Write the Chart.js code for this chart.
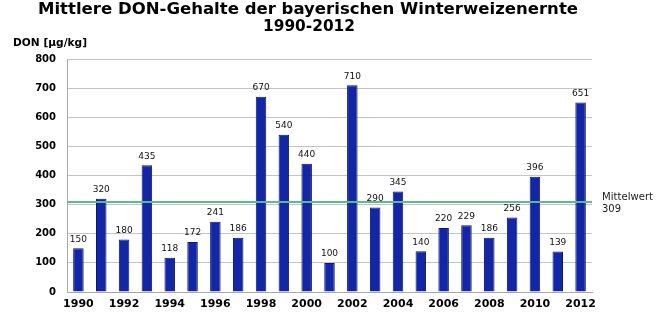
<!DOCTYPE html>
<html>
<head>
<meta charset="utf-8">
<script src="https://cdn.jsdelivr.net/npm/chart.js@4"></script>
<style>
  html, body { margin: 0; padding: 0; background: #fff; }
  #wrap { width: 658px; height: 323px; }
</style>
</head>
<body>
<div id="wrap"><canvas id="chart" width="658" height="323"></canvas></div>
<script>
const years = ['1990', '1991', '1992', '1993', '1994', '1995', '1996', '1997', '1998', '1999', '2000', '2001',
  '2002', '2003', '2004', '2005', '2006', '2007', '2008', '2009', '2010', '2011', '2012'];
const donValues = [150, 320, 180, 435, 118, 172, 241, 186, 670, 540, 440, 100,
  710, 290, 345, 140, 220, 229, 186, 256, 396, 139, 651];
const meanValue = 309;
const titleLines = ['Mittlere DON-Gehalte der bayerischen Winterweizenernte', '1990-2012'];
const yAxisLabel = 'DON [µg/kg]';
const meanLabel = ['Mittelwert', String(meanValue)];

const FONT = '"DejaVu Sans", Verdana, sans-serif';

// draw text squeezed/stretched horizontally so it spans the given width
function fitText(ctx, text, x, y, width) {
  const w = ctx.measureText(text).width;
  ctx.save();
  ctx.translate(x, y);
  ctx.scale(width / w, 1);
  ctx.fillText(text, 0, 0);
  ctx.restore();
}

// titles, axis caption and the mean line with its label
const overlay = {
  id: 'overlay',
  afterDraw(chart) {
    const ctx = chart.ctx;
    const area = chart.chartArea;
    ctx.save();
    ctx.fillStyle = '#000';
    ctx.textBaseline = 'middle';
    ctx.textAlign = 'left';
    ctx.font = 'bold 16px ' + FONT;
    fitText(ctx, titleLines[0], 38, 10, 540);
    fitText(ctx, titleLines[1], 263, 27, 92);

    ctx.font = 'bold 10.5px ' + FONT;
    fitText(ctx, yAxisLabel, 13, 43, 74);

    ctx.font = '10px ' + FONT;
    ctx.fillStyle = '#222';
    fitText(ctx, meanLabel[0], 602, 197, 51);
    fitText(ctx, meanLabel[1], 602, 209, 19);

    const y = chart.scales.y.getPixelForValue(meanValue);
    ctx.strokeStyle = '#5cbb8c';
    ctx.lineWidth = 2;
    ctx.beginPath();
    ctx.moveTo(area.left, y);
    ctx.lineTo(area.right, y);
    ctx.stroke();
    ctx.restore();
  }
};

// value labels above the bars
const valueLabels = {
  id: 'valueLabels',
  afterDatasetsDraw(chart) {
    const ctx = chart.ctx;
    const meta = chart.getDatasetMeta(0);
    ctx.save();
    ctx.font = '9px ' + FONT;
    ctx.fillStyle = '#111';
    ctx.textAlign = 'center';
    ctx.textBaseline = 'middle';
    meta.data.forEach((bar, i) => {
      ctx.fillText(String(donValues[i]), bar.x, bar.y - 9);
    });
    ctx.restore();
  }
};

new Chart(document.getElementById('chart'), {
  type: 'bar',
  data: {
    labels: years,
    datasets: [{
      data: donValues,
      backgroundColor: '#1226a6',
      borderColor: '#0a1678',
      borderWidth: 1,
      barPercentage: 0.46,
      categoryPercentage: 1,
    }],
  },
  options: {
    responsive: false,
    animation: false,
    layout: { padding: { top: 59, right: 66, left: 0, bottom: 0 } },
    plugins: {
      legend: { display: false },
      tooltip: { enabled: false },
    },
    scales: {
      x: {
        grid: { display: false, drawTicks: false },
        border: { color: '#a8a8a8', width: 1 },
        ticks: {
          autoSkip: false,
          maxRotation: 0,
          padding: 6,
          color: '#000',
          font: { family: FONT, size: 11, weight: 'bold' },
          callback: (v, i) => (i % 2 === 0 ? years[i] : ''),
        },
        afterFit: s => { s.height = 31; },
      },
      y: {
        min: 0,
        max: 800,
        grid: { color: '#c4c4c4', drawTicks: false },
        border: { color: '#a8a8a8', width: 1 },
        ticks: {
          stepSize: 100,
          padding: 11,
          color: '#000',
          font: { family: FONT, size: 10, weight: 'bold' },
        },
        afterFit: s => { s.width = 67; },
      },
    },
  },
  plugins: [valueLabels, overlay],
});
</script>
</body>
</html>
